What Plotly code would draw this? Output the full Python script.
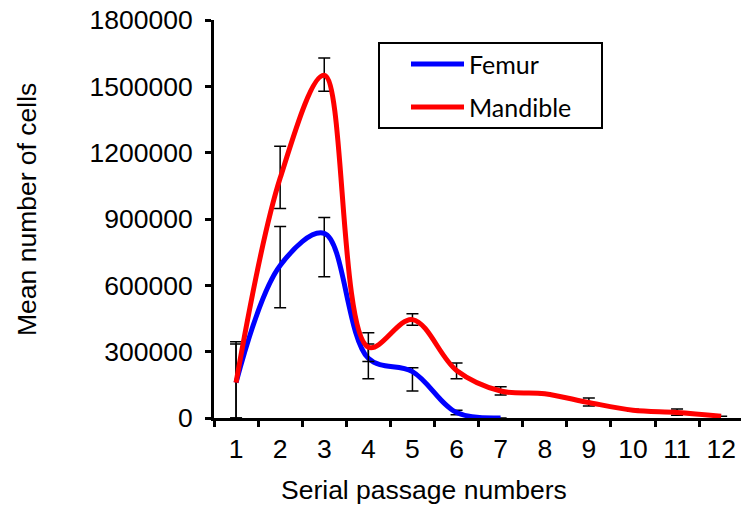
import plotly.graph_objects as go

passages = ["1", "2", "3", "4", "5", "6", "7", "8", "9", "10", "11", "12"]

femur_mean = [160000, 690000, 835000, 270000, 210000, 25000, 0]
femur_err_plus = [175000, 176000, 72000, 65000, 17000, 10000, 0]
femur_err_minus = [160000, 191000, 196000, 93000, 88000, 10000, 0]

mandible_mean = [160000, 1085000, 1550000, 320000, 445000, 215000, 122000, 110000, 70000, 35000, 25000, 8000]
mandible_err_plus = [185000, 144000, 78000, 65000, 26000, 34000, 19000, 4000, 21000, 5000, 16000, 0]
mandible_err_minus = [160000, 137000, 72000, 65000, 26000, 38000, 18000, 4000, 16000, 5000, 12000, 0]

y_ticks = [0, 300000, 600000, 900000, 1200000, 1500000, 1800000]

series_names = ["Femur", "Mandible"]
series_colors = ["#0000FF", "#FF0000"]

fig = go.Figure()
fig.add_trace(go.Scatter(
    x=passages[:len(femur_mean)], y=femur_mean, name=series_names[0],
    mode="lines", line=dict(color=series_colors[0], width=5, shape="spline", smoothing=1.0),
    error_y=dict(type="data", symmetric=False, array=femur_err_plus, arrayminus=femur_err_minus,
                 color="black", thickness=1.5, width=6),
))
fig.add_trace(go.Scatter(
    x=passages, y=mandible_mean, name=series_names[1],
    mode="lines", line=dict(color=series_colors[1], width=5, shape="spline", smoothing=1.0),
    error_y=dict(type="data", symmetric=False, array=mandible_err_plus, arrayminus=mandible_err_minus,
                 color="black", thickness=1.5, width=6),
))

axis_font = dict(family="Liberation Sans, Arial, sans-serif", size=26.5, color="black")
legend_font = dict(family="Lato, sans-serif", size=25, color="black")

# plot area in pixels
L, R, T, B = 214, 741, 20, 418
PW, PH = R - L, B - T


def px(xp):
    return (xp - L) / PW


def py(yp):
    return (B - yp) / PH


shapes = [
    dict(type="rect", xref="paper", yref="paper", x0=px(379), x1=px(602), y0=py(128), y1=py(43),
         line=dict(color="black", width=2), fillcolor="white", layer="above"),
]
annotations = [
    dict(text="Serial passage numbers", xref="paper", yref="paper",
         x=px(424), y=py(490), xanchor="center", yanchor="middle",
         showarrow=False, font=axis_font),
    dict(text="Mean number of cells", xref="paper", yref="paper",
         x=px(27), y=py(210), xanchor="center", yanchor="middle",
         textangle=-90, showarrow=False, font=axis_font),
]
for i, (name, color) in enumerate(zip(series_names, series_colors)):
    yrow = 64 + 43 * i
    shapes.append(dict(type="line", xref="paper", yref="paper", x0=px(411), x1=px(464),
                       y0=py(yrow), y1=py(yrow), line=dict(color=color, width=5), layer="above"))
    annotations.append(dict(text=name, xref="paper", yref="paper", x=px(467), y=py(yrow),
                            xanchor="left", yanchor="middle", showarrow=False, font=legend_font))

fig.update_layout(
    width=741, height=505,
    margin=dict(l=L, r=741 - R, t=T, b=505 - B),
    paper_bgcolor="white", plot_bgcolor="white",
    showlegend=False,
    xaxis=dict(
        type="category", categoryorder="array", categoryarray=passages,
        range=[-0.5, 11.45], tickson="boundaries",
        showline=True, linecolor="black", linewidth=3,
        ticks="outside", ticklen=6, tickwidth=3, tickcolor="black",
        showgrid=False, zeroline=False, tickfont=axis_font, ticklabelstandoff=5,
    ),
    yaxis=dict(
        range=[0, 1800000], tickvals=y_ticks, ticktext=[str(v) for v in y_ticks],
        showline=True, linecolor="black", linewidth=3,
        ticks="outside", ticklen=6, tickwidth=3, tickcolor="black",
        showgrid=False, zeroline=False, tickfont=axis_font, ticklabelstandoff=7,
    ),
    shapes=shapes,
    annotations=annotations,
)

fig.write_html("out.html", config={"displayModeBar": False},
               post_script="document.body.style.margin='0';document.body.style.overflow='hidden';")
